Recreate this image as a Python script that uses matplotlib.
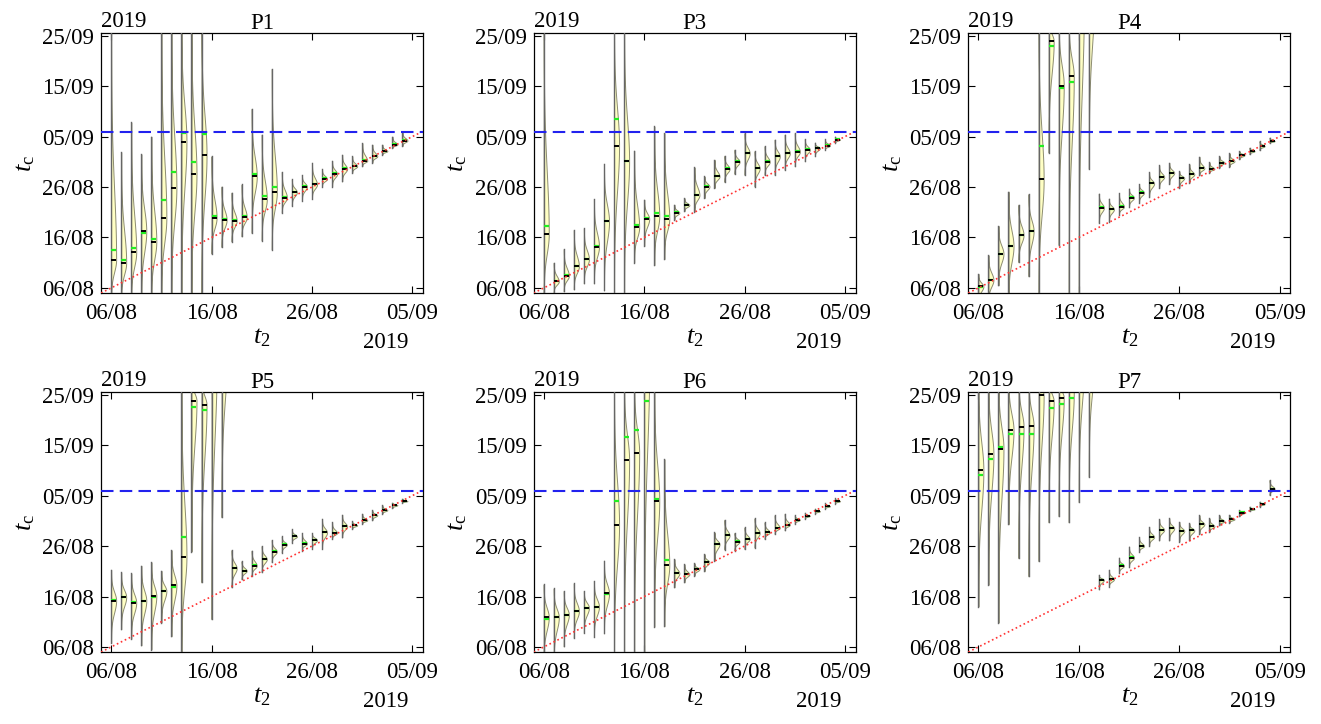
import numpy as np
import matplotlib
matplotlib.use("Agg")
import matplotlib.pyplot as plt

plt.rcParams['font.family'] = ['Liberation Serif', 'DejaVu Serif']
plt.rcParams['mathtext.fontset'] = 'custom'
plt.rcParams['mathtext.rm'] = 'Liberation Serif'
plt.rcParams['mathtext.it'] = 'Liberation Serif:italic'

# days counted from 1 Aug 2019 (32 = 01/09)
t2_days = list(range(6, 36))
panel_names = ['P1', 'P3', 'P4', 'P5', 'P6', 'P7']
t_end = 37  # 06/09

# per panel: whisker low / high, median and mean of t_c (same day units)
p1_lo = [3, 3, 3, 3, 3, 3, 3, 3, 3, 3, 12.8, 14.1, 15.2, 16.2, 16.9, 15.4, 13.6, 20.9, 22.3, 23.3,
         23.7, 26.1, 26.1, 27.1, 28.8, 30.1, 30.8, 32.4, 33.7, 34.1]
p1_hi = [60, 32.9, 38.8, 32.5, 36.0, 60, 60, 60, 60, 60, 32.1, 26.1, 24.9, 26.5, 41.5, 36.4, 49.4, 29.0, 27.5, 28.4,
         30.8, 29.6, 31.2, 32.4, 32.1, 34.7, 34.4, 34.4, 36.0, 36.9]
p1_med = [11.6, 11.0, 13.1, 17.2, 15.2, 19.9, 25.9, 35.0, 28.5, 32.3, 19.9, 19.5, 19.3, 20.0, 28.1, 23.6, 25.1, 23.9, 25.0, 26.1,
          26.5, 27.6, 28.6, 29.6, 30.1, 31.2, 32.1, 33.1, 34.4, 35.2]
p1_mean = [13.5, 11.6, 13.9, 16.8, 15.7, 23.5, 28.9, 36.8, 31.0, 36.6, 20.3, 19.7, 19.5, 20.2, 28.6, 24.2, 26.1, 24.0, 25.1, 26.3,
           26.6, 27.7, 28.7, 29.7, 30.2, 31.3, 32.2, 33.2, 34.5, 35.3]

p3_lo = [3, 5.0, 5.3, 5.7, 6.9, 6.9, 5.5, 3, 3, 11.0, 14.3, 10.5, 11.7, 19.5, 21.2, 21.1, 23.8, 25.8, 27.0, 28.6,
         28.4, 26.1, 28.4, 28.4, 29.4, 30.1, 31.1, 32.1, 33.4, 34.7]
p3_hi = [60, 11.0, 13.7, 17.5, 17.8, 23.6, 30.6, 60, 60, 33.2, 23.5, 38.0, 36.7, 22.5, 23.8, 29.9, 28.1, 31.4, 32.2, 33.4,
         36.7, 33.1, 34.1, 35.4, 36.4, 36.7, 35.5, 34.8, 35.5, 36.0]
p3_med = [16.7, 7.3, 8.4, 10.3, 11.7, 14.2, 19.2, 34.2, 31.1, 18.0, 19.7, 20.2, 19.7, 20.9, 22.4, 24.4, 26.1, 28.1, 29.6, 31.0,
          32.7, 29.7, 31.0, 32.1, 32.7, 33.0, 33.4, 33.7, 34.2, 35.4]
p3_mean = [18.3, 7.45, 8.6, 10.4, 11.8, 14.3, 19.3, 39.5, 31.2, 18.5, 19.8, 20.9, 20.2, 21.0, 22.5, 24.5, 26.2, 28.2, 29.7, 31.1,
           32.8, 29.8, 31.1, 32.2, 32.8, 33.1, 33.5, 33.8, 34.3, 35.5]

p4_lo = [3, 3, 6.5, 3, 11.1, 8.3, 3, 32.8, 14.5, 3, 3, 29.6, 18.9, 19.1, 20.5, 22.0, 22.9, 24.0, 25.8, 26.6,
         25.8, 26.8, 28.3, 28.8, 29.8, 30.0, 31.5, 32.5, 33.3, 34.7]
p4_hi = [8.8, 12.5, 18.3, 25.1, 22.5, 24.6, 60, 60, 60, 60, 60, 60, 24.7, 23.7, 24.8, 25.7, 26.6, 28.9, 30.3, 30.8,
         29.1, 30.5, 32.0, 30.9, 32.1, 32.7, 33.1, 33.8, 35.1, 35.8]
p4_med = [6.3, 7.6, 12.8, 14.3, 16.5, 17.3, 27.5, 54.9, 46.1, 47.9, 62, 64, 21.9, 21.6, 22.1, 23.9, 24.9, 26.7, 28.0, 28.8,
          27.8, 28.5, 29.7, 29.6, 30.8, 31.1, 32.3, 33.1, 34.1, 35.1]
p4_mean = [6.2, 7.5, 12.7, 14.25, 16.45, 17.3, 34.1, 54.0, 45.7, 46.9, 64, 66, 21.95, 21.65, 22.15, 23.95, 24.95, 26.75, 28.05, 28.85,
           27.85, 28.55, 29.75, 29.65, 30.85, 31.15, 32.35, 33.15, 34.15, 35.15]

p5_lo = [6.8, 9.5, 7.6, 6.3, 5.5, 10.8, 8.1, 3, 24.9, 18.8, 11.5, 31.7, 17.8, 19.4, 20.1, 20.8, 22.8, 24.7, 26.7, 25.1,
         25.4, 25.5, 27.4, 27.7, 29.4, 30.4, 31.1, 32.4, 33.5, 34.6]
p5_hi = [21.3, 20.8, 20.6, 22.1, 22.8, 21.1, 25.2, 60, 60, 60, 60, 60, 25.2, 23.0, 25.1, 26.0, 27.2, 27.9, 29.3, 28.6,
         28.6, 31.4, 30.7, 32.2, 30.9, 32.4, 33.1, 34.1, 34.6, 35.4]
p5_med = [15.2, 15.9, 14.8, 15.2, 16.1, 17.1, 18.2, 23.9, 54.8, 54.0, 62, 65, 21.6, 21.1, 22.1, 23.4, 24.9, 26.3, 27.9, 26.5,
          27.2, 28.7, 28.6, 29.9, 30.1, 31.1, 32.1, 33.1, 34.1, 34.9]
p5_mean = [15.25, 15.95, 14.85, 15.1, 15.9, 17.0, 17.9, 27.7, 53.5, 52.9, 64, 67, 21.65, 21.15, 22.15, 23.45, 24.95, 26.35, 27.95, 26.55,
           27.25, 28.75, 28.65, 29.95, 30.15, 31.15, 32.15, 33.15, 34.15, 34.95]

p6_lo = [3, 3, 6.1, 7.8, 8.8, 8.0, 8.7, 3, 3, 3, 3, 10.0, 10.1, 17.8, 18.8, 20.1, 21.0, 23.1, 25.3, 25.1,
         25.4, 25.7, 27.4, 28.4, 29.1, 30.4, 31.4, 32.4, 33.4, 34.4]
p6_hi = [18.4, 17.6, 17.1, 18.6, 17.1, 19.1, 23.1, 60, 60, 60, 60, 60, 43.2, 23.4, 22.4, 22.6, 24.4, 28.7, 31.2, 28.6,
         29.7, 31.5, 30.7, 32.1, 32.4, 32.1, 32.6, 33.4, 34.5, 35.5]
p6_med = [11.9, 11.9, 12.4, 13.1, 13.8, 14.0, 16.6, 30.2, 43.0, 44.5, 62, 34.9, 22.2, 20.6, 20.4, 21.4, 22.8, 26.4, 28.1, 26.9,
          27.4, 28.6, 28.7, 29.6, 30.2, 31.2, 32.0, 32.9, 33.9, 34.9]
p6_mean = [11.6, 11.95, 12.3, 13.05, 13.75, 13.9, 16.5, 34.9, 47.7, 49.0, 54.8, 35.4, 23.2, 20.65, 20.45, 21.45, 22.85, 26.45, 28.15, 26.95,
           27.45, 28.65, 28.75, 29.65, 30.25, 31.25, 32.05, 32.95, 33.95, 34.95]

p7_lo = [14.0, 18.3, 10.8, 30.3, 23.6, 20.0, 23.0, 30.7, 31.9, 30.7, 34.7, 39.7, 17.4, 17.9, 20.6, 21.8, 24.8, 26.0, 27.1, 27.1,
         26.9, 27.1, 28.4, 28.8, 30.1, 30.6, 31.9, 32.9, 33.8, 36.1]
p7_hi = [60, 60, 60, 60, 60, 60, 60, 60, 60, 60, 60, 60, 20.3, 21.3, 23.7, 25.9, 27.8, 29.8, 31.3, 31.5,
         30.8, 30.5, 32.1, 31.5, 32.1, 32.2, 33.1, 33.8, 34.8, 39.1]
p7_med = [41.0, 44.2, 45.3, 49.0, 49.6, 49.7, 55.9, 54.7, 55.4, 56.5, 62, 64, 19.3, 19.4, 22.1, 23.7, 26.0, 27.8, 29.2, 29.5,
          29.0, 29.1, 30.3, 29.9, 30.9, 31.3, 32.6, 33.3, 34.3, 37.3]
p7_mean = [40.0, 43.2, 45.7, 48.2, 48.2, 48.2, 57.5, 53.3, 54.2, 55.3, 64, 66, 19.25, 19.45, 22.15, 23.75, 26.05, 27.85, 29.25, 29.55,
           29.05, 29.15, 30.35, 29.95, 30.95, 31.35, 32.65, 33.35, 34.35, 37.35]

panels = [
    (p1_lo, p1_hi, p1_med, p1_mean),
    (p3_lo, p3_hi, p3_med, p3_mean),
    (p4_lo, p4_hi, p4_med, p4_mean),
    (p5_lo, p5_hi, p5_med, p5_mean),
    (p6_lo, p6_hi, p6_med, p6_mean),
    (p7_lo, p7_hi, p7_med, p7_mean),
]

tick_days = [6, 16, 26, 36, 46, 56]
fs = 16.5


def day_label(d):
    if d <= 31:
        return f"{d:02d}/08"
    return f"{d - 31:02d}/09"


def half_violin(ax, x0, lo, hi, med, mean, width=0.5):
    # one-sided violin: profile peaks at the median and tapers to the whiskers
    y = np.linspace(lo, hi, 300)
    s_lo = max(med - lo, 0.3) / 3.5
    s_hi = max(hi - med, 0.3) / 3.5
    s = np.where(y < med, s_lo, s_hi)
    f = np.exp(-0.5 * ((y - med) / s) ** 2)
    f = f / f.max()
    ax.fill_betweenx(y, x0, x0 + width * f, facecolor='#ffffc4',
                     edgecolor='#8c8c70', linewidth=0.7, zorder=2)
    ax.plot([x0, x0], [lo, hi], color='#666666', lw=1.0, zorder=3)
    ax.plot([x0, x0 + width], [mean, mean], color='#22ee22', lw=1.6, zorder=4,
            solid_capstyle='butt')
    ax.plot([x0, x0 + width], [med, med], color='black', lw=1.4, zorder=5,
            solid_capstyle='butt')


fig = plt.figure(figsize=(13.21, 7.24), dpi=100)
lefts = [0.0765, 0.404, 0.733]
bottoms = [0.5953, 0.0994]
w, h = 0.2437, 0.359

for k, (name, (lo, hi, med, mean)) in enumerate(zip(panel_names, panels)):
    ax = fig.add_axes([lefts[k % 3], bottoms[k // 3], w, h])
    for i, d in enumerate(t2_days):
        half_violin(ax, d, lo[i], hi[i], med[i], mean[i])

    ax.plot([5, t_end], [5, t_end], color='#ff3333', ls=':', lw=1.2, zorder=6)
    ax.axhline(t_end, color='#2222ee', ls=(0, (6, 3)), lw=1.5, zorder=6)

    ax.set_xlim(5, 37.05)
    ax.set_ylim(5, 56.5)
    ax.set_xticks(tick_days[:4])
    ax.set_xticklabels([day_label(d) for d in tick_days[:4]])
    ax.set_yticks(tick_days)
    ax.set_yticklabels([day_label(d) for d in tick_days])
    ax.tick_params(direction='in', length=5, width=0.8, labelsize=fs,
                   top=True, right=True)
    ax.tick_params(axis='x', pad=7)
    ax.tick_params(axis='y', pad=5)
    for sp in ax.spines.values():
        sp.set_linewidth(0.9)

    ax.set_title(name, fontsize=fs, pad=3)
    ax.text(0.0, 1.005, '2019', transform=ax.transAxes, ha='left', va='bottom', fontsize=fs)
    ax.text(0.955, -0.15, '2019', transform=ax.transAxes, ha='right', va='top', fontsize=fs)
    ax.set_xlabel(r'$t_2$', fontsize=19, labelpad=2)
    ax.set_ylabel(r'$t_{\mathrm{c}}$', fontsize=19, labelpad=4)

fig.savefig('out.png', dpi=100)
